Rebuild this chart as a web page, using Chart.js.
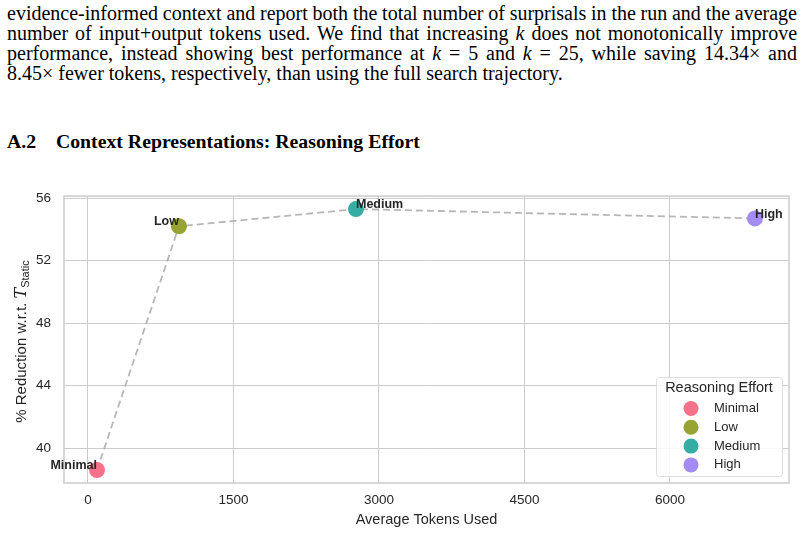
<!DOCTYPE html>
<html>
<head>
<meta charset="utf-8">
<script src="https://cdn.jsdelivr.net/npm/chart.js@4/dist/chart.umd.min.js"></script>
<style>
  body { margin: 0; background: #fff; width: 804px; height: 535px; overflow: hidden; position: relative; }
  .para { position: absolute; left: 7px; width: 790px; font-family: 'Liberation Serif', serif; font-size: 20px; color: #000; }
  .line { height: 20px; line-height: 20px; white-space: nowrap; }
  .just { text-align: justify; text-align-last: justify; white-space: normal; word-spacing: -3px; }
  .heading { position: absolute; left: 7px; top: 130px; font-family: 'Liberation Serif', serif; font-size: 19.8px; font-weight: bold; }
  #wrap { position: absolute; left: 0; top: 175px; width: 804px; height: 360px; }
</style>
</head>
<body>
<div class="para" style="top:3px">
  <div class="line just">evidence-informed context and report both the total number of surprisals in the run and the average</div>
  <div class="line just">number of input+output tokens used. We find that increasing <i>k</i> does not monotonically improve</div>
  <div class="line just">performance, instead showing best performance at <i>k</i> = 5 and <i>k</i> = 25, while saving 14.34&times; and</div>
  <div class="line">8.45&times; fewer tokens, respectively, than using the full search trajectory.</div>
</div>
<div class="heading">A.2&nbsp;&nbsp;&nbsp;&nbsp;Context Representations: Reasoning Effort</div>
<div id="wrap"><canvas id="grafico" width="804" height="360"></canvas></div>
<script>
// Datos
const niveles = ['Minimal', 'Low', 'Medium', 'High'];
const tokens = [93, 938, 2763, 6876];
const reduccion = [38.6, 54.2, 55.3, 54.7];
const ticksX = [0, 1500, 3000, 4500, 6000];
const ticksY = [40, 44, 48, 52, 56];

const colores = ['#f77189', '#97a431', '#36ada4', '#a48cf4'];
const alineacion = ['right', 'right', 'left', 'left'];
const fuente = "'Liberation Sans', Arial, sans-serif";
const gris = '#cccccc';
const texto = '#262626';

const puntos = niveles.map((n, i) => ({ x: tokens[i], y: reduccion[i] }));

// Marco completo del área de trazado
const marco = {
    id: 'marco',
    beforeDatasetsDraw(chart) {
        const { ctx, chartArea: a } = chart;
        ctx.save();
        ctx.strokeStyle = gris;
        ctx.lineWidth = 1.5;
        ctx.strokeRect(a.left, a.top, a.right - a.left, a.bottom - a.top);
        ctx.restore();
    }
};

// Etiquetas de cada punto
const etiquetas = {
    id: 'etiquetas',
    afterDatasetsDraw(chart) {
        const { ctx } = chart;
        const meta = chart.getDatasetMeta(0);
        ctx.save();
        ctx.font = `bold 12.5px ${fuente}`;
        ctx.fillStyle = texto;
        ctx.textBaseline = 'bottom';
        meta.data.forEach((p, i) => {
            ctx.textAlign = alineacion[i];
            ctx.fillText(niveles[i], p.x, p.y + 2);
        });
        ctx.restore();
    }
};

// Título del eje Y con subíndice
const tituloY = {
    id: 'tituloY',
    afterDraw(chart) {
        const { ctx, chartArea: a } = chart;
        const partes = [
            { t: '% Reduction w.r.t. ', f: `15px ${fuente}`, dy: 0 },
            { t: 'T', f: `italic 16px 'DejaVu Serif', serif`, dy: 0 },
            { t: 'Static', f: `11px ${fuente}`, dy: 4 }
        ];
        ctx.save();
        let total = 0;
        partes.forEach(p => { ctx.font = p.f; p.w = ctx.measureText(p.t).width; total += p.w; });
        ctx.translate(22, (a.top + a.bottom) / 2 + 2);
        ctx.rotate(-Math.PI / 2);
        ctx.fillStyle = texto;
        ctx.textBaseline = 'middle';
        ctx.textAlign = 'left';
        let x = -total / 2;
        partes.forEach(p => {
            ctx.font = p.f;
            ctx.fillText(p.t, x, p.dy);
            x += p.w;
        });
        ctx.restore();
    }
};

// Leyenda dentro del área
const leyenda = {
    id: 'leyenda',
    afterDraw(chart) {
        const { ctx, chartArea: a } = chart;
        const w = 126, h = 99;
        const x0 = a.right - 7 - w, y0 = a.bottom - 7 - h;
        ctx.save();
        ctx.fillStyle = 'rgba(255,255,255,0.85)';
        ctx.strokeStyle = '#dddddd';
        ctx.lineWidth = 1;
        ctx.beginPath();
        ctx.roundRect(x0 + 0.5, y0 + 0.5, w, h, 3);
        ctx.fill();
        ctx.stroke();
        ctx.fillStyle = texto;
        ctx.font = `14.5px ${fuente}`;
        ctx.textAlign = 'center';
        ctx.textBaseline = 'middle';
        ctx.fillText('Reasoning Effort', x0 + w / 2, y0 + 11);
        ctx.font = `13px ${fuente}`;
        ctx.textAlign = 'left';
        niveles.forEach((n, i) => {
            const yy = y0 + 31.5 + i * 18.8;
            ctx.fillStyle = colores[i];
            ctx.beginPath();
            ctx.arc(x0 + 35, yy, 7.5, 0, Math.PI * 2);
            ctx.fill();
            ctx.fillStyle = texto;
            ctx.fillText(n, x0 + 58, yy);
        });
        ctx.restore();
    }
};

const ctx = document.getElementById('grafico').getContext('2d');
new Chart(ctx, {
    type: 'scatter',
    data: {
        datasets: [
            {
                label: 'Reasoning Effort',
                data: puntos,
                pointBackgroundColor: colores,
                pointBorderWidth: 0,
                pointRadius: 8,
                order: 0
            },
            {
                label: 'trayectoria',
                data: puntos,
                showLine: true,
                borderColor: 'rgba(165,165,165,0.8)',
                borderWidth: 1.8,
                borderDash: [7, 4],
                pointRadius: 0,
                order: 1
            }
        ]
    },
    options: {
        responsive: false,
        animation: false,
        layout: { padding: { top: 9, right: 15, left: 0, bottom: 0 } },
        plugins: {
            legend: { display: false },
            tooltip: { enabled: false }
        },
        scales: {
            x: {
                type: 'linear',
                min: -247,
                max: 7227,
                afterBuildTicks: s => { s.ticks = ticksX.map(v => ({ value: v })); },
                afterFit: s => { s.height = 52; },
                grid: { color: gris, lineWidth: 1, drawTicks: false },
                border: { display: false },
                ticks: { color: texto, font: { family: fuente, size: 13.5 }, padding: 9, maxRotation: 0, callback: v => String(v) },
                title: { display: true, text: 'Average Tokens Used', color: texto, font: { family: fuente, size: 14.5 }, padding: { top: 0, bottom: 6 } }
            },
            y: {
                type: 'linear',
                min: 37.77,
                max: 56.13,
                afterBuildTicks: s => { s.ticks = ticksY.map(v => ({ value: v })); },
                afterFit: s => { s.width = 64; },
                grid: { color: gris, lineWidth: 1, drawTicks: false },
                border: { display: false },
                ticks: { color: texto, font: { family: fuente, size: 13.5 }, padding: 13, callback: v => String(v) },
                title: { display: false }
            }
        }
    },
    plugins: [marco, etiquetas, tituloY, leyenda]
});
</script>
</body>
</html>
